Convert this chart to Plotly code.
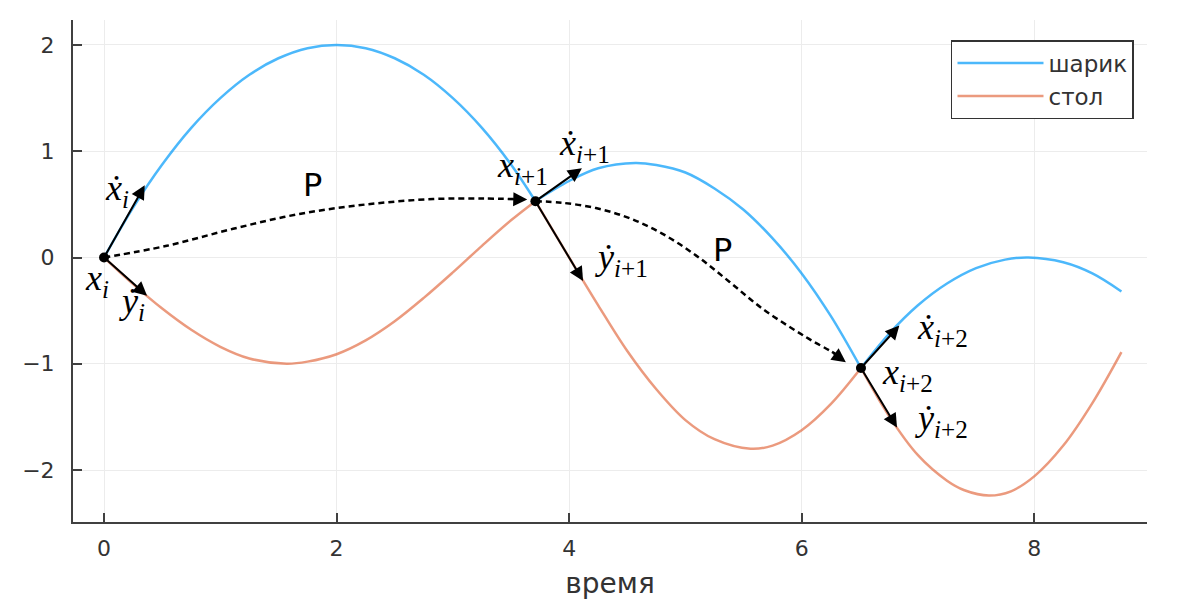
import plotly.graph_objects as go

# ---- data ----
ball_t1 = [0, 0.25, 0.5, 0.75, 1.0, 1.25, 1.5, 1.75, 2.0, 2.25, 2.5, 2.75, 3.0, 3.25, 3.5, 3.71]
ball_y1 = [0, 0.47, 0.875, 1.22, 1.5, 1.72, 1.875, 1.97, 2.0, 1.97, 1.875, 1.72, 1.5, 1.22, 0.875, 0.53]
ball_t2 = [3.71, 4.0, 4.25, 4.57, 4.75, 5.0, 5.25, 5.5, 5.75, 6.0, 6.25, 6.51]
ball_y2 = [0.53, 0.72, 0.84, 0.89, 0.87, 0.80, 0.65, 0.45, 0.18, -0.15, -0.55, -1.04]
ball_t3 = [6.51, 6.75, 7.0, 7.25, 7.5, 7.75, 7.95, 8.25, 8.5, 8.75]
ball_y3 = [-1.04, -0.72, -0.45, -0.245, -0.10, -0.02, 0.0, -0.045, -0.15, -0.32]

table_t1 = [0, 0.25, 0.5, 0.75, 1.0, 1.25, 1.57, 1.75, 2.0, 2.25, 2.5, 2.75, 3.0, 3.25, 3.5, 3.71]
table_y1 = [0, -0.25, -0.48, -0.68, -0.84, -0.95, -1.0, -0.98, -0.91, -0.78, -0.60, -0.38, -0.14, 0.11, 0.35, 0.53]
table_t2 = [3.71, 4.0, 4.25, 4.5, 4.75, 5.0, 5.25, 5.56, 5.75, 6.0, 6.25, 6.51]
table_y2 = [0.53, 0.0, -0.45, -0.88, -1.24, -1.53, -1.71, -1.80, -1.77, -1.625, -1.38, -1.04]
table_t3 = [6.51, 6.75, 7.0, 7.25, 7.4, 7.61, 7.8, 8.0, 8.25, 8.5, 8.75]
table_y3 = [-1.04, -1.49, -1.86, -2.10, -2.19, -2.24, -2.20, -2.06, -1.77, -1.37, -0.89]

# contact points
pts_t = [0.0, 3.71, 6.51]
pts_y = [0.0, 0.53, -1.04]

# dashed "P" propagation curves
p1_t = [0.0, 0.54, 1.11, 1.68, 2.26, 2.83, 3.26, 3.52]
p1_y = [0.0, 0.11, 0.27, 0.41, 0.50, 0.55, 0.555, 0.55]
p2_t = [3.71, 3.94, 4.23, 4.52, 4.80, 5.09, 5.38, 5.66, 5.95, 6.10, 6.24, 6.30]
p2_y = [0.53, 0.515, 0.465, 0.37, 0.225, 0.02, -0.23, -0.48, -0.69, -0.79, -0.875, -0.915]

# velocity arrow tips (tails are the contact points)
xdot_tip_t = [0.35, 4.11, 6.84]
xdot_tip_y = [0.68, 0.84, -0.64]
ydot_tip_t = [0.37, 4.12, 6.82]
ydot_tip_y = [-0.36, -0.22, -1.60]

series_names = ["шарик", "стол"]
x_ticks = [0, 2, 4, 6, 8]
y_ticks = [-2, -1, 0, 1, 2]
y_tick_text = ["\u22122", "\u22121", "0", "1", "2"]

BLUE = "rgba(0,154,250,0.7)"
ORANGE = "rgba(227,111,71,0.7)"

fig = go.Figure()
for i, (tt, yy) in enumerate([(ball_t1, ball_y1), (ball_t2, ball_y2), (ball_t3, ball_y3)]):
    fig.add_trace(go.Scatter(x=tt, y=yy, mode="lines", name=series_names[0],
                             legendgroup="b", showlegend=(i == 0),
                             line=dict(color=BLUE, width=2.5, shape="spline")))
for i, (tt, yy) in enumerate([(table_t1, table_y1), (table_t2, table_y2), (table_t3, table_y3)]):
    fig.add_trace(go.Scatter(x=tt, y=yy, mode="lines", name=series_names[1],
                             legendgroup="o", showlegend=(i == 0),
                             line=dict(color=ORANGE, width=2.5, shape="spline")))

for tt, yy in [(p1_t, p1_y), (p2_t, p2_y)]:
    fig.add_trace(go.Scatter(x=tt, y=yy, mode="lines", showlegend=False, hoverinfo="skip",
                             line=dict(color="black", width=2.5, dash="6px,4px", shape="spline")))

fig.add_trace(go.Scatter(x=pts_t, y=pts_y, mode="markers", showlegend=False,
                         marker=dict(color="black", size=10)))

ann = []
# velocity arrows
for i in range(3):
    for tt, yy in [(xdot_tip_t, xdot_tip_y), (ydot_tip_t, ydot_tip_y)]:
        ann.append(dict(x=tt[i], y=yy[i], ax=pts_t[i], ay=pts_y[i], xref="x", yref="y",
                        axref="x", ayref="y", showarrow=True, arrowhead=2, arrowsize=1.4,
                        arrowwidth=2, arrowcolor="black", text=""))
# arrowheads of dashed curves
ann.append(dict(x=3.64, y=0.545, ax=3.46, ay=0.551, xref="x", yref="y", axref="x", ayref="y",
                showarrow=True, arrowhead=2, arrowsize=1.4, arrowwidth=2, arrowcolor="black", text=""))
ann.append(dict(x=6.38, y=-0.985, ax=6.26, ay=-0.89, xref="x", yref="y", axref="x", ayref="y",
                showarrow=True, arrowhead=2, arrowsize=1.4, arrowwidth=2, arrowcolor="black", text=""))

MF = dict(family="Liberation Serif", size=36, color="black")
labels = [
    (0.11, 0.63, "<i>\u1e8b</i><sub><i>i</i></sub>"),
    (-0.06, -0.22, "<i>x</i><sub><i>i</i></sub>"),
    (0.24, -0.43, "<i>\u1e8f</i><sub><i>i</i></sub>"),
    (3.60, 0.85, "<i>x</i><sub><i>i</i>+1</sub>"),
    (4.13, 1.05, "<i>\u1e8b</i><sub><i>i</i>+1</sub>"),
    (4.45, -0.02, "<i>\u1e8f</i><sub><i>i</i>+1</sub>"),
    (7.21, -0.68, "<i>\u1e8b</i><sub><i>i</i>+2</sub>"),
    (6.91, -1.10, "<i>x</i><sub><i>i</i>+2</sub>"),
    (7.20, -1.53, "<i>\u1e8f</i><sub><i>i</i>+2</sub>"),
]
for x, y, s in labels:
    ann.append(dict(x=x, y=y, xref="x", yref="y", text=s, showarrow=False, font=MF))
for x, y in [(1.79, 0.68), (5.32, 0.07)]:
    ann.append(dict(x=x, y=y, xref="x", yref="y", text="P", showarrow=False,
                    font=dict(family="DejaVu Sans", size=32, color="black")))

fig.update_layout(
    width=1200, height=600,
    margin=dict(l=73, r=53, t=20, b=78),
    paper_bgcolor="white", plot_bgcolor="white",
    font=dict(family="DejaVu Sans", color="#333333"),
    annotations=ann,
    legend=dict(x=0.8175, y=0.96, xanchor="left", yanchor="top",
                bgcolor="white", bordercolor="#333333", borderwidth=1.5,
                font=dict(size=23, color="#333333"), itemwidth=86,
                tracegroupgap=0),
)
fig.update_xaxes(range=[-0.267, 8.97], tickvals=x_ticks, ticks="inside", ticklen=9,
                 tickcolor="#404040", tickwidth=1.5, ticklabelstandoff=6, automargin=False,
                 showline=True, linecolor="#404040", linewidth=2,
                 showgrid=True, gridcolor="#ececec", gridwidth=1, zeroline=False,
                 tickfont=dict(size=22, color="#333333"),
                 title=dict(text="время", font=dict(size=28, color="#333333"), standoff=16))
fig.update_yaxes(range=[-2.489, 2.235], tickvals=y_ticks, ticktext=y_tick_text,
                 ticks="inside", ticklen=9, tickcolor="#404040", tickwidth=1.5,
                 ticklabelstandoff=12, automargin=False,
                 showline=True, linecolor="#404040", linewidth=2,
                 showgrid=True, gridcolor="#ececec", gridwidth=1, zeroline=False,
                 tickfont=dict(size=22, color="#333333"))

fig.write_html("out.html")
